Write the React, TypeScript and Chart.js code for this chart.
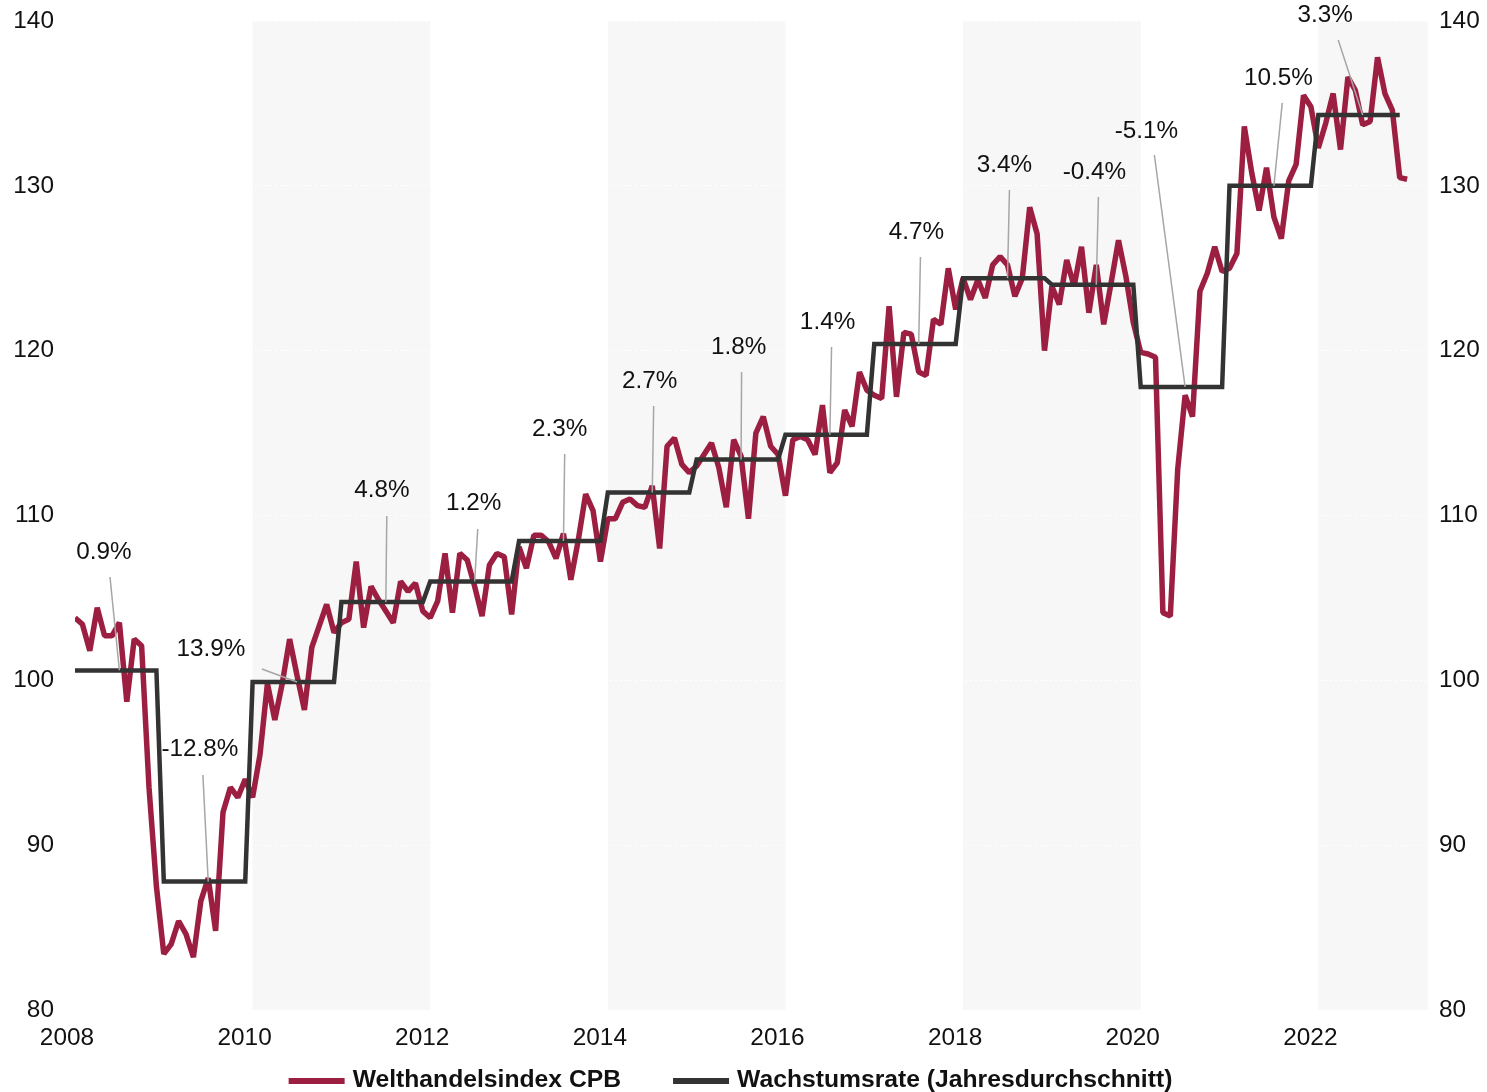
import { useEffect, useRef } from "react";
import { Chart, registerables } from "chart.js";

Chart.register(...registerables);

const START_YEAR = 2008;
const X_MAX = 2023.235;

// Monthly Welthandelsindex CPB, Jan 2008 – Jan 2023
const tradeIndex = [
  103.8, 103.4, 101.8, 104.4, 102.7, 102.7, 103.5, 98.7, 102.5, 102.1, 93.5, 87.5,
  83.4, 84.0, 85.4, 84.6, 83.2, 86.6, 88.0, 84.8, 92.0, 93.5, 92.9, 94.0,
  92.9, 95.5, 99.8, 97.6, 99.8, 102.5, 100.3, 98.2, 102.0, 103.3, 104.6, 102.9,
  103.5, 103.7, 107.2, 103.2, 105.7, 104.9, 104.2, 103.5, 106.0, 105.4, 105.9, 104.2,
  103.8, 104.8, 107.7, 104.1, 107.7, 107.3, 105.7, 103.9, 107.0, 107.7, 107.5, 104.0,
  108.1, 106.8, 108.8, 108.8, 108.4, 107.4, 108.9, 106.1, 108.5, 111.3, 110.3, 107.2,
  109.8, 109.8, 110.8, 111.0, 110.6, 110.5, 111.8, 108.0, 114.2, 114.7, 113.1, 112.6,
  113.0, 113.7, 114.4, 112.9, 110.5, 114.6, 113.6, 109.8, 115.0, 116.0, 114.2, 113.7,
  111.2, 114.6, 114.8, 114.6, 113.7, 116.7, 112.6, 113.2, 116.4, 115.4, 118.7, 117.6,
  117.3, 117.1, 122.7, 117.2, 121.1, 121.0, 118.7, 118.5, 121.9, 121.6, 125.0, 122.5,
  124.4, 123.1, 124.3, 123.2, 125.2, 125.7, 125.2, 123.3, 124.4, 128.7, 127.1, 120.0,
  123.9, 122.8, 125.5, 123.9, 126.3, 122.3, 125.2, 121.6, 124.1, 126.7, 124.5, 121.7,
  119.9, 119.8, 119.6, 104.1, 103.9, 112.8, 117.3, 116.0, 123.6, 124.7, 126.3, 124.8,
  125.0, 125.9, 133.6, 130.8, 128.5, 131.1, 128.1, 126.8, 130.3, 131.3, 135.5, 134.8,
  132.3, 133.8, 135.6, 132.2, 136.6, 135.8, 133.7, 133.9, 137.8, 135.6, 134.6, 130.5,
  130.4,
];

// Annual average level (step line)
const annualYears = [2008, 2009, 2010, 2011, 2012, 2013, 2014, 2015, 2016, 2017, 2018, 2019, 2020, 2021, 2022];
const annualLevel = [100.6, 87.8, 99.9, 104.75, 106.0, 108.45, 111.4, 113.4, 114.9, 120.4, 124.4, 124.0, 117.8, 130.0, 134.3];

// Growth-rate annotations
const growthLabels = ["0.9%", "-12.8%", "13.9%", "4.8%", "1.2%", "2.3%", "2.7%", "1.8%", "1.4%", "4.7%", "3.4%", "-0.4%", "-5.1%", "10.5%", "3.3%"];
const labelX = [2008.326, 2009.407, 2009.53, 2011.455, 2012.49, 2013.458, 2014.471, 2015.472, 2016.474, 2017.475, 2018.466, 2019.479, 2020.064, 2021.55, 2022.078];
const labelY = [107.78, 95.83, 101.9, 111.55, 110.76, 115.25, 118.16, 120.22, 121.74, 127.2, 131.26, 130.84, 133.33, 136.54, 140.36];
const leaderX = [2008.394, 2009.44, 2010.104, 2011.511, 2012.535, 2013.514, 2014.516, 2015.506, 2016.519, 2017.52, 2018.522, 2019.524, 2020.154, 2021.594, 2022.224];
const leaderY = [106.27, 94.26, 100.69, 109.97, 109.18, 113.73, 116.64, 118.71, 120.22, 125.68, 129.75, 129.32, 131.87, 135.03, 138.85];

const shadedBands: [number, number][] = [[2010, 2012], [2014, 2016], [2018, 2020], [2022, X_MAX]];

const RED = "#9c1f42";
const DARK = "#333333";
const FONT_FAMILY = "'Liberation Sans', Arial, Helvetica, sans-serif";
const TEXT_COLOR = "#111111";

const bandPlugin = {
  id: "bands",
  beforeDraw(chart: any) {
    const { ctx, chartArea, scales } = chart;
    ctx.save();
    ctx.fillStyle = "#f7f7f7";
    for (const [a, b] of shadedBands) {
      const x1 = scales.x.getPixelForValue(a);
      const x2 = scales.x.getPixelForValue(b);
      ctx.fillRect(x1, chartArea.top, x2 - x1, chartArea.bottom - chartArea.top);
    }
    ctx.restore();
  },
};

const annotationPlugin = {
  id: "growthAnnotations",
  afterDatasetsDraw(chart: any) {
    const { ctx, scales } = chart;
    ctx.save();
    ctx.strokeStyle = "#a6a6a6";
    ctx.lineWidth = 1.5;
    annualYears.forEach((yr, i) => {
      ctx.beginPath();
      ctx.moveTo(scales.x.getPixelForValue(leaderX[i]), scales.y.getPixelForValue(leaderY[i]));
      ctx.lineTo(scales.x.getPixelForValue(yr + 0.5), scales.y.getPixelForValue(annualLevel[i]));
      ctx.stroke();
    });
    ctx.restore();
  },
  afterDraw(chart: any) {
    const { ctx, scales } = chart;
    ctx.save();
    ctx.font = `24.3px ${FONT_FAMILY}`;
    ctx.fillStyle = TEXT_COLOR;
    ctx.textAlign = "center";
    ctx.textBaseline = "middle";
    growthLabels.forEach((t, i) => {
      ctx.fillText(t, scales.x.getPixelForValue(labelX[i]), scales.y.getPixelForValue(labelY[i]));
    });
    ctx.restore();
  },
};

const legendPlugin = {
  id: "bottomLegend",
  afterDraw(chart: any) {
    const { ctx } = chart;
    ctx.save();
    ctx.font = `bold 24.7px ${FONT_FAMILY}`;
    const items = chart.data.datasets.map((ds: any) => ({ text: ds.label, color: ds.borderColor }));
    const boxW = 56, gap = 8, spacing = 52;
    const widths = items.map((it: any) => ctx.measureText(it.text).width);
    const total = widths.reduce((a: number, w: number) => a + boxW + gap + w, 0) + spacing * (items.length - 1);
    let x = (chart.width - total) / 2 - 13;
    const y = chart.height - 12;
    items.forEach((it: any, i: number) => {
      ctx.fillStyle = it.color;
      ctx.fillRect(x, y - 2, boxW, 6);
      x += boxW + gap;
      ctx.fillStyle = TEXT_COLOR;
      ctx.textBaseline = "middle";
      ctx.textAlign = "left";
      ctx.fillText(it.text, x, y);
      x += widths[i] + spacing;
    });
    ctx.restore();
  },
};

const fitVertical = (width: number) => (s: any) => {
  s.width = width;
  s.paddingTop = 0;
  s.paddingBottom = 0;
};

export default function App() {
  const ref = useRef<HTMLCanvasElement>(null);

  useEffect(() => {
    const canvas = ref.current;
    if (!canvas) return;
    const redPoints = tradeIndex.map((v, i) => ({ x: START_YEAR + i / 12, y: v }));
    const stepPoints = annualYears.flatMap((yr, k) =>
      Array.from({ length: 12 }, (_, m) => ({ x: yr + m / 12, y: annualLevel[k] }))
    );
    const tickFont = { family: FONT_FAMILY, size: 24.4 };
    const chart = new Chart(canvas, {
      type: "line",
      data: {
        datasets: [
          {
            label: "Welthandelsindex CPB",
            data: redPoints,
            borderColor: RED,
            backgroundColor: RED,
            borderWidth: 5.5,
            pointRadius: 0,
            borderJoinStyle: "bevel",
            order: 2,
          },
          {
            label: "Wachstumsrate (Jahresdurchschnitt)",
            data: stepPoints,
            borderColor: DARK,
            backgroundColor: DARK,
            borderWidth: 4.5,
            pointRadius: 0,
            borderJoinStyle: "miter",
            borderCapStyle: "butt",
            order: 1,
          },
        ],
      },
      options: {
        responsive: false,
        animation: false,
        events: [],
        layout: { padding: { top: 21, bottom: 32, left: 0, right: 0 } },
        plugins: { legend: { display: false }, tooltip: { enabled: false } },
        scales: {
          x: {
            type: "linear",
            min: START_YEAR,
            max: X_MAX,
            grid: { display: false },
            border: { display: false },
            ticks: {
              stepSize: 2,
              includeBounds: false,
              autoSkip: false,
              maxRotation: 0,
              callback: (v: any) => String(v),
              font: tickFont,
              color: TEXT_COLOR,
              padding: 6,
              labelOffset: -8,
            },
            afterFit: (s: any) => {
              s.height = 50;
              s.paddingLeft = 0;
              s.paddingRight = 0;
            },
          },
          y: {
            position: "left",
            min: 80,
            max: 140,
            ticks: { stepSize: 10, font: tickFont, color: TEXT_COLOR, padding: 21 },
            grid: { color: "#ffffff", lineWidth: 1, drawTicks: false },
            border: { display: false, dash: [2, 3] },
            afterFit: fitVertical(75),
          },
          y2: {
            position: "right",
            min: 80,
            max: 140,
            ticks: { stepSize: 10, font: tickFont, color: TEXT_COLOR, padding: 11 },
            grid: { display: false, drawTicks: false },
            border: { display: false },
            afterFit: fitVertical(59),
          },
        },
      },
      plugins: [bandPlugin, annotationPlugin, legendPlugin],
    } as any);
    return () => chart.destroy();
  }, []);

  return (
    <div style={{ position: "absolute", left: 0, top: 0, width: 1487, height: 1092, background: "#ffffff" }}>
      <canvas ref={ref} width={1487} height={1092} style={{ display: "block" }} />
    </div>
  );
}
